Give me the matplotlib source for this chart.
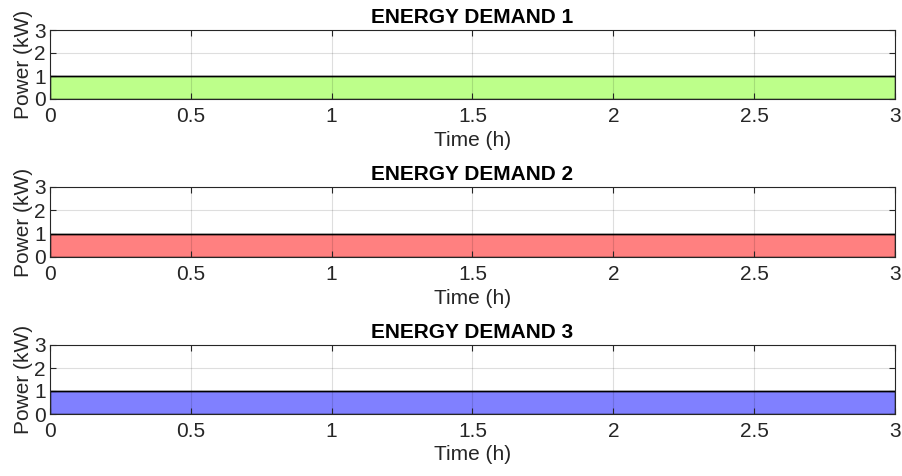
import matplotlib
matplotlib.use("Agg")
import matplotlib.pyplot as plt

plt.rcParams['font.family'] = ['Liberation Sans', 'DejaVu Sans']

titles = ["ENERGY DEMAND 1", "ENERGY DEMAND 2", "ENERGY DEMAND 3"]
time_h = [0, 3]
power_kw = [[1, 1], [1, 1], [1, 1]]
colors = ["#bdff8a", "#ff8080", "#8080ff"]
xticks = [0, 0.5, 1, 1.5, 2, 2.5, 3]
xticklabels = ["0", "0.5", "1", "1.5", "2", "2.5", "3"]
yticks = [0, 1, 2, 3]

fig = plt.figure(figsize=(9.02, 4.76), dpi=100)
tops = [30, 187, 345]
bottoms = [99, 257, 414]
W, H = 902, 476
for i in range(3):
    ax = fig.add_axes([50 / W, 1 - bottoms[i] / H, 845 / W, (bottoms[i] - tops[i]) / H])
    ax.fill_between(time_h, 0, power_kw[i], facecolor=colors[i], edgecolor='black', linewidth=1.0, zorder=2)
    ax.plot(time_h, power_kw[i], color='black', linewidth=1.0, zorder=3)
    ax.set_xlim(0, 3)
    ax.set_ylim(0, 3)
    ax.set_xticks(xticks)
    ax.set_xticklabels(xticklabels)
    ax.set_yticks(yticks)
    ax.grid(True, color='black', alpha=0.13, linewidth=0.8, zorder=4)
    ax.set_axisbelow(False)
    ax.tick_params(direction='in', top=True, right=True, labelsize=15, length=4, width=0.8, colors='#262626', pad=6)
    ax.tick_params(axis='y', pad=3)
    for s in ax.spines.values():
        s.set_color('#262626')
        s.set_linewidth(0.8)
        s.set_zorder(5)
    ax.set_xlabel("Time (h)", fontsize=15, color='#262626', labelpad=3)
    ax.set_ylabel("Power (kW)", fontsize=15, color='#262626', labelpad=1)
    ax.set_title(titles[i], fontsize=15, fontweight='bold', color='black', pad=5)

fig.savefig("out.png", dpi=100)
